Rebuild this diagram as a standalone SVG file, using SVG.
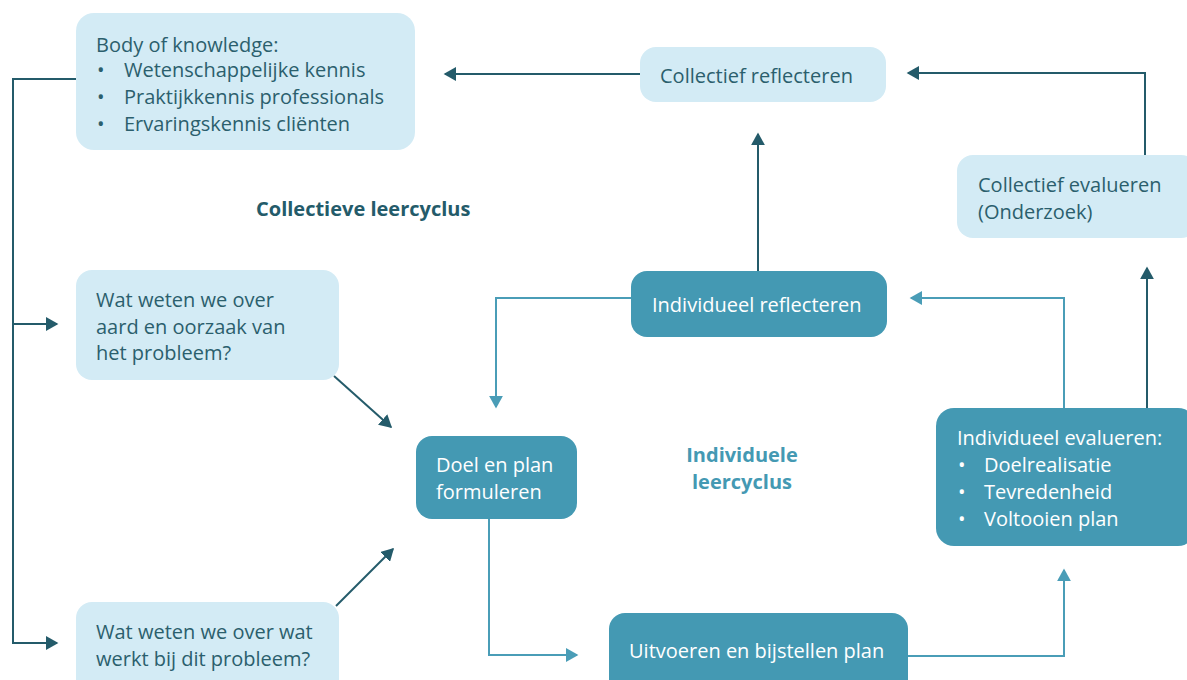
<svg xmlns="http://www.w3.org/2000/svg" width="1187" height="680" viewBox="0 0 1187 680">
<style>
.lb{fill:#d3ebf5}
.db{fill:#4499b3}
.t{font-family:"Open Sans","Liberation Sans",sans-serif;font-size:20px;fill:#2b5f6d}
.w{font-family:"Open Sans","Liberation Sans",sans-serif;font-size:20px;fill:#ffffff}
.bd{font-family:"Open Sans","Liberation Sans",sans-serif;font-size:20px;font-weight:bold}
.dl{fill:none;stroke:#245b6a;stroke-width:2}
.ll{fill:none;stroke:#4a9db7;stroke-width:2}
</style>
<defs>
<marker id="ad" viewBox="0 0 10 10" refX="8" refY="5" markerWidth="7" markerHeight="7" orient="auto" markerUnits="strokeWidth"><path d="M0,0 L9,5 L0,10 z" fill="#245b6a"/></marker>
<marker id="al" viewBox="0 0 10 10" refX="8" refY="5" markerWidth="7" markerHeight="7" orient="auto" markerUnits="strokeWidth"><path d="M0,0 L9,5 L0,10 z" fill="#4a9db7"/></marker>
</defs>
<rect width="1187" height="680" fill="#ffffff"/>
<g id="connectors">
<path class="dl" d="M640,74 H445" marker-end="url(#ad)"/>
<path class="dl" d="M1145,155 V73 H908" marker-end="url(#ad)"/>
<path class="dl" d="M76,79 H13 V643 H57" marker-end="url(#ad)"/>
<path class="dl" d="M13,324 H57" marker-end="url(#ad)"/>
<path class="dl" d="M334,376 L391,427" marker-end="url(#ad)"/>
<path class="dl" d="M336,606 L393,549" marker-end="url(#ad)"/>
<path class="dl" d="M758,271 V134" marker-end="url(#ad)"/>
<path class="dl" d="M1147,408 V268" marker-end="url(#ad)"/>
<path class="ll" d="M631,298 H496 V407" marker-end="url(#al)"/>
<path class="ll" d="M489,519 V655 H577" marker-end="url(#al)"/>
<path class="ll" d="M908,656 H1064 V570" marker-end="url(#al)"/>
<path class="ll" d="M1064,408 V298 H911" marker-end="url(#al)"/>
</g>
<g id="body-of-knowledge">
<rect class="lb" x="76" y="13" width="339" height="137" rx="18"/>
<text class="t" x="96" y="52">Body of knowledge:</text>
<text class="t" x="97" y="77">•</text><text class="t" x="124" y="77">Wetenschappelijke kennis</text>
<text class="t" x="97" y="104">•</text><text class="t" x="124" y="104">Praktijkkennis professionals</text>
<text class="t" x="97" y="131">•</text><text class="t" x="124" y="131">Ervaringskennis cliënten</text>
</g>
<g id="collectief-reflecteren">
<rect class="lb" x="640" y="47" width="246" height="55" rx="16"/>
<text class="t" x="660" y="83">Collectief reflecteren</text>
</g>
<g id="collectief-evalueren">
<rect class="lb" x="957" y="155" width="240" height="83" rx="16"/>
<text class="t" x="978" y="192">Collectief evalueren</text>
<text class="t" x="978" y="219">(Onderzoek)</text>
</g>
<g id="label-collectieve">
<text class="bd" x="256" y="216" fill="#245b6a">Collectieve leercyclus</text>
</g>
<g id="wat-weten-aard">
<rect class="lb" x="76" y="270" width="263" height="110" rx="16"/>
<text class="t" x="96" y="307">Wat weten we over</text>
<text class="t" x="96" y="334">aard en oorzaak van</text>
<text class="t" x="96" y="360">het probleem?</text>
</g>
<g id="wat-weten-werkt">
<rect class="lb" x="76" y="602" width="263" height="100" rx="16"/>
<text class="t" x="96" y="639">Wat weten we over wat</text>
<text class="t" x="96" y="666">werkt bij dit probleem?</text>
</g>
<g id="doel-en-plan">
<rect class="db" x="416" y="436" width="161" height="83" rx="16"/>
<text class="w" x="436" y="472">Doel en plan</text>
<text class="w" x="436" y="499">formuleren</text>
</g>
<g id="individueel-reflecteren">
<rect class="db" x="631" y="271" width="256" height="66" rx="16"/>
<text class="w" x="652" y="312">Individueel reflecteren</text>
</g>
<g id="label-individuele">
<text class="bd" x="742" y="462" fill="#4499b3" text-anchor="middle">Individuele</text>
<text class="bd" x="742" y="489" fill="#4499b3" text-anchor="middle">leercyclus</text>
</g>
<g id="uitvoeren">
<rect class="db" x="609" y="613" width="299" height="90" rx="16"/>
<text class="w" x="629" y="658">Uitvoeren en bijstellen plan</text>
</g>
<g id="individueel-evalueren">
<rect class="db" x="936" y="408" width="260" height="138" rx="18"/>
<text class="w" x="957" y="445">Individueel evalueren:</text>
<text class="w" x="958" y="472">•</text><text class="w" x="984" y="472">Doelrealisatie</text>
<text class="w" x="958" y="499">•</text><text class="w" x="984" y="499">Tevredenheid</text>
<text class="w" x="958" y="526">•</text><text class="w" x="984" y="526">Voltooien plan</text>
</g>
</svg>
